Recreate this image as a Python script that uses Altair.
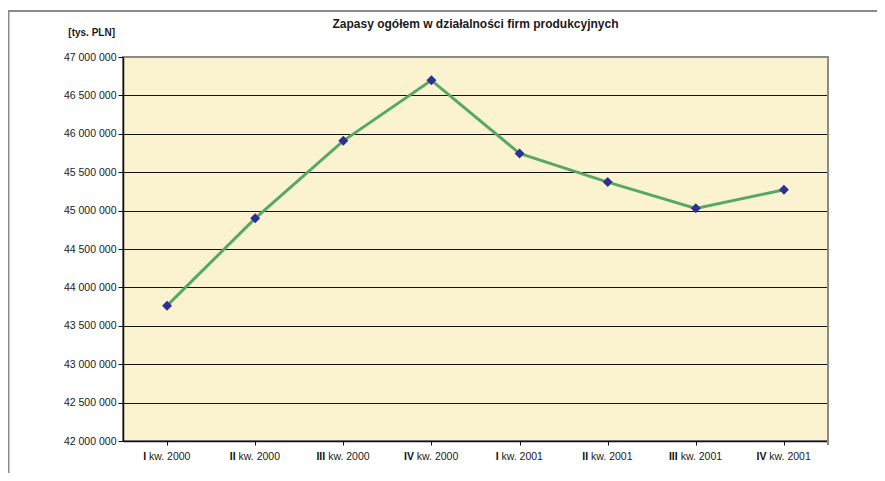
import altair as alt
import pandas as pd

categories = ["I kw. 2000", "II kw. 2000", "III kw. 2000", "IV kw. 2000",
              "I kw. 2001", "II kw. 2001", "III kw. 2001", "IV kw. 2001"]
numerals = ["I", "II", "III", "IV", "I", "II", "III", "IV"]
rests = ["kw. 2000", "kw. 2000", "kw. 2000", "kw. 2000",
         "kw. 2001", "kw. 2001", "kw. 2001", "kw. 2001"]
values = [43762000, 44899000, 45908000, 46697000, 45744000, 45371000, 45029000, 45271000]
y_ticks = [42000000, 42500000, 43000000, 43500000, 44000000, 44500000,
           45000000, 45500000, 46000000, 46500000, 47000000]

title_text = "Zapasy ogółem w działalności firm produkcyjnych"
unit_text = "[tys. PLN]"

W, H = 705, 384
FS = 10.5
# approximate glyph widths (Arial metrics) for centering mixed-weight labels
bold_w = {"I": 0.278 * FS, "V": 0.667 * FS}
space_w = 0.278 * FS
rest_w = 4.002 * FS

dxn, dxr = [], []
for n in numerals:
    wn = sum(bold_w[c] for c in n)
    T = wn + space_w + rest_w
    dxn.append(-T / 2 + wn)
    dxr.append(-T / 2 + wn + space_w)

df = pd.DataFrame({"cat": categories, "val": values})
lab = pd.DataFrame({"cat": categories, "num": numerals, "rest": rests, "dxn": dxn, "dxr": dxr})

xscale = alt.Scale(domain=categories, paddingInner=0, paddingOuter=0)
yscale = alt.Scale(domain=[42000000, 47000000], nice=False, zero=False)

xaxis = alt.Axis(title=None, labels=False, bandPosition=0, tickSize=4,
                 tickColor="#111111", domainColor="#111111", grid=False,
                 domainWidth=1.5)
yaxis = alt.Axis(title=None, values=y_ticks, tickCount=11, labelOverlap=False,
                 tickSize=5, labelPadding=2,
                 labelFont="Liberation Sans", labelFontSize=FS, labelColor="#1a1a1a",
                 labelExpr="replace(format(datum.value, ','), regexp(',', 'g'), ' ')",
                 tickColor="#111111", domainColor="#111111", domainWidth=1.5,
                 gridColor=alt.condition("datum.value == 47000000",
                                         alt.value("#8a8a8a"), alt.value("#111111")),
                 gridWidth=1, gridOpacity=1)

xenc = alt.X("cat:N", scale=xscale, sort=categories, axis=xaxis)
yenc = alt.Y("val:Q", scale=yscale, axis=yaxis)

line = alt.Chart(df).mark_line(color="#57A868", strokeWidth=3).encode(x=xenc, y=yenc)
pts = alt.Chart(df).mark_point(shape="diamond", filled=True, size=100,
                               color="#2E3192", opacity=1).encode(x=xenc, y=yenc)

num_txt = alt.Chart(lab).mark_text(align="right", baseline="alphabetic", font="Liberation Sans",
                                   fontSize=FS, fontWeight="bold", color="#111111",
                                   dx={"expr": "datum.dxn"}).encode(
    x=xenc, y=alt.value(H + 19), text="num:N")
rest_txt = alt.Chart(lab).mark_text(align="left", baseline="alphabetic", font="Liberation Sans",
                                    fontSize=FS, color="#1a1a1a",
                                    dx={"expr": "datum.dxr"}).encode(
    x=xenc, y=alt.value(H + 19), text="rest:N")

title = alt.Chart(pd.DataFrame({"t": [title_text]})).mark_text(
    align="center", baseline="alphabetic", font="Liberation Sans", fontSize=12,
    fontWeight="bold", color="#1a1a1a").encode(
    x=alt.value(W / 2), y=alt.value(-29), text="t:N")
unit = alt.Chart(pd.DataFrame({"t": [unit_text]})).mark_text(
    align="right", baseline="alphabetic", font="Liberation Sans", fontSize=10,
    fontWeight="bold", color="#1a1a1a").encode(
    x=alt.value(-8), y=alt.value(-21), text="t:N")

frame_top = alt.Chart(pd.DataFrame({"a": [0]})).mark_rule(color="#8a8a8a", strokeWidth=2).encode(
    x=alt.value(-115), x2=alt.value(W + 60), y=alt.value(-46))
frame_left = alt.Chart(pd.DataFrame({"a": [0]})).mark_rule(color="#8a8a8a", strokeWidth=2).encode(
    x=alt.value(-114.5), y=alt.value(-46), y2=alt.value(H + 60))
right_tick = alt.Chart(pd.DataFrame({"a": [0]})).mark_rule(color="#8a8a8a", strokeWidth=2).encode(
    x=alt.value(W), y=alt.value(0), y2=alt.value(H + 4))

chart = alt.layer(line, pts, num_txt, rest_txt, title, unit, frame_top, frame_left, right_tick).properties(
    width=W, height=H,
    padding={"left": 115, "top": 49, "right": 49, "bottom": 32},
    autosize=alt.AutoSizeParams(type="none"),
    background="white",
).configure_view(fill="#FBF3D0", stroke="#8a8a8a", strokeWidth=2)

chart.save("out.html", embed_options={"renderer": "svg", "actions": False})
